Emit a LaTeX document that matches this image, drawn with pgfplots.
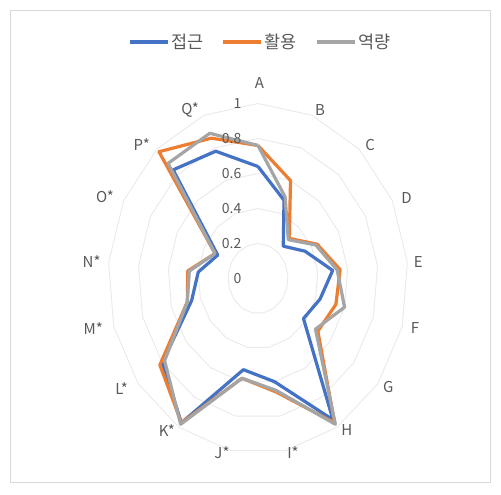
\documentclass[border=0pt]{standalone}
\usepackage{pgfplots}
\pgfplotsset{compat=1.18}
\usepackage{pgfplotstable}
\usepackage{fontspec}
\setmainfont{Noto Sans CJK KR}

\definecolor{sblue}{HTML}{4472C4}
\definecolor{sorange}{HTML}{ED7D31}
\definecolor{sgray}{HTML}{A5A5A5}
\definecolor{txtgray}{HTML}{595959}
\definecolor{gridgray}{HTML}{EAEAEA}
\definecolor{framegray}{HTML}{D9D9D9}

% k = category index (A=0 ... Q*=16), row 17 repeats A to close the polygon
% a = 접근, b = 활용, c = 역량
\pgfplotstableread{
k  a     b     c
0  0.64  0.76  0.76
1  0.48  0.60  0.50
2  0.25  0.31  0.30
3  0.35  0.44  0.43
4  0.50  0.55  0.53
5  0.43  0.54  0.60
6  0.38  0.50  0.48
7  0.95  0.97  0.98
8  0.60  0.66  0.65
9  0.53  0.58  0.58
10 0.97  0.97  0.98
11 0.80  0.82  0.78
12 0.46  0.49  0.49
13 0.40  0.47  0.46
14 0.30  0.32  0.32
15 0.84  0.98  0.89
16 0.78  0.86  0.89
17 0.64  0.76  0.76
}\scores

\begin{document}
\begin{tikzpicture}[
  lab/.style={font=\fontsize{15}{15}\selectfont, text=txtgray},
  vlab/.style={font=\fontsize{14}{14}\selectfont, text=txtgray, anchor=east, inner sep=0pt},
]
\useasboundingbox (0pt,0pt) rectangle (501pt,495pt);
\fill[white] (0pt,0pt) rectangle (501pt,495pt);
\draw[framegray, line width=0.8pt] (10pt,13pt) rectangle (490pt,485pt);
\begin{axis}[
  x=150pt, y=175pt,
  xmin=-1.3, xmax=1.3, ymin=-1.3, ymax=1.3,
  anchor=center, at={(258pt,216.5pt)},
  hide axis, clip=false,
  legend columns=-1,
  legend style={at={(0.506,1.0196)}, anchor=center, draw=none, fill=none,
    font=\fontsize{17.5}{17.5}\selectfont, text=txtgray,
    /tikz/every even column/.append style={column sep=16pt}},
  legend image code/.code={\draw[#1] (0pt,0pt) -- (38pt,0pt);},
]
% grid rings (polygons through the 17 spokes)
\pgfplotsinvokeforeach{0.2,0.4,0.6,0.8,1}{
  \addplot[gridgray, line width=0.9pt, forget plot] table[
    x expr={#1*cos(90-\thisrow{k}*360/17)},
    y expr={#1*sin(90-\thisrow{k}*360/17)}]{\scores};
}
% series
\addplot[sblue, line width=3.2pt, line join=round] table[
  x expr={\thisrow{a}*cos(90-\thisrow{k}*360/17)},
  y expr={\thisrow{a}*sin(90-\thisrow{k}*360/17)}]{\scores};
\addlegendentry{접근}
\addplot[sorange, line width=3.2pt, line join=round] table[
  x expr={\thisrow{b}*cos(90-\thisrow{k}*360/17)},
  y expr={\thisrow{b}*sin(90-\thisrow{k}*360/17)}]{\scores};
\addlegendentry{활용}
\addplot[sgray, line width=3.2pt, line join=round] table[
  x expr={\thisrow{c}*cos(90-\thisrow{k}*360/17)},
  y expr={\thisrow{c}*sin(90-\thisrow{k}*360/17)}]{\scores};
\addlegendentry{역량}

% value axis labels
\node[vlab] at (axis cs:-0.11,0) {0};
\node[vlab] at (axis cs:-0.11,0.2) {0.2};
\node[vlab] at (axis cs:-0.11,0.4) {0.4};
\node[vlab] at (axis cs:-0.11,0.6) {0.6};
\node[vlab] at (axis cs:-0.11,0.8) {0.8};
\node[vlab] at (axis cs:-0.11,1) {1};

% category labels
\node[lab] at (axis cs:0.01,1.115) {A};
\node[lab] at (axis cs:0.413,0.963) {B};
\node[lab] at (axis cs:0.747,0.763) {C};
\node[lab] at (axis cs:0.991,0.458) {D};
\node[lab] at (axis cs:1.069,0.096) {E};
\node[lab] at (axis cs:1.047,-0.285) {F};
\node[lab] at (axis cs:0.869,-0.618) {G};
\node[lab] at (axis cs:0.593,-0.866) {H};
\node[lab] at (axis cs:0.233,-0.997) {I*};
\node[lab] at (axis cs:-0.24,-0.997) {J*};
\node[lab] at (axis cs:-0.607,-0.866) {K*};
\node[lab] at (axis cs:-0.909,-0.627) {L*};
\node[lab] at (axis cs:-1.098,-0.285) {M*};
\node[lab] at (axis cs:-1.109,0.096) {N*};
\node[lab] at (axis cs:-1.02,0.467) {O*};
\node[lab] at (axis cs:-0.775,0.763) {P*};
\node[lab] at (axis cs:-0.453,0.963) {Q*};
\end{axis}
\end{tikzpicture}
\end{document}
